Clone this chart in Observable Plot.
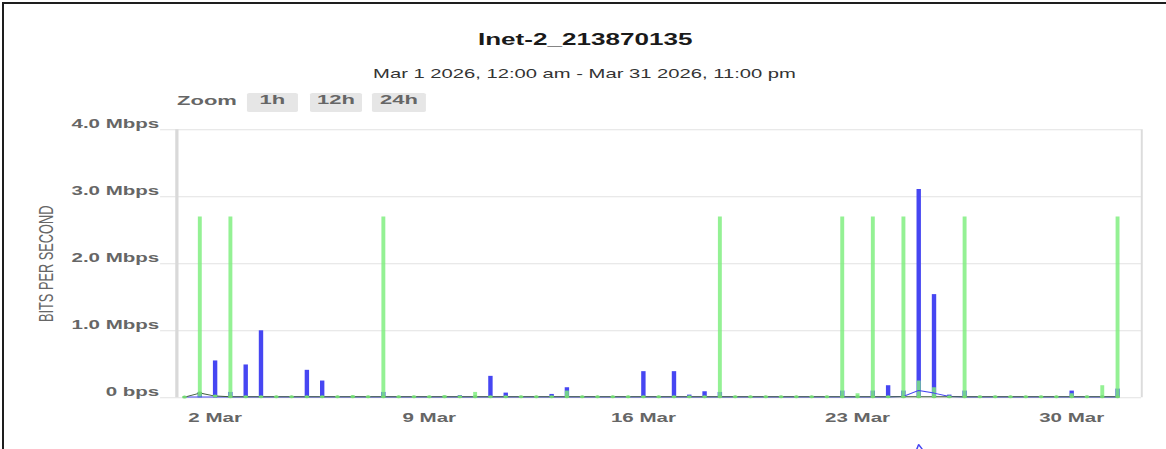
<!DOCTYPE html>
<html>
<head>
<meta charset="utf-8">
<script src="https://cdn.jsdelivr.net/npm/d3@7"></script>
<script src="https://cdn.jsdelivr.net/npm/@observablehq/plot@0.6"></script>
<style>
  html, body { margin: 0; padding: 0; background: #fff; overflow: hidden; }
  body { width: 1166px; height: 449px; position: relative; font-family: "Liberation Sans", Arial, sans-serif; }
  #stage { position: absolute; left: 0; top: 0; height: 449px; transform-origin: 0 0; }
  #stage > * { position: absolute; left: 0; }
  .border { position: absolute; background: #1e1e1e; }
</style>
</head>
<body>
<div class="border" style="left:2px;top:2px;width:1164px;height:2px"></div>
<div class="border" style="left:2px;top:2px;width:2px;height:447px"></div>
<div id="stage"></div>
<script>
// ---- data ----
const chartTitle = "Inet-2_213870135";
const chartSubtitle = "Mar 1 2026, 12:00 am - Mar 31 2026, 11:00 pm";
const zoomLabel = "Zoom";
const zoomButtons = ["1h", "12h", "24h"];
const yAxisTitle = "BITS PER SECOND";
const yTicks = [0, 1, 2, 3, 4];                       // Mbps
const yTickLabels = ["0 bps", "1.0 Mbps", "2.0 Mbps", "3.0 Mbps", "4.0 Mbps"];
const xTickDays = [2, 9, 16, 23, 30];
const xTickLabels = ["2 Mar", "9 Mar", "16 Mar", "23 Mar", "30 Mar"];
// samples every 12 hours from Mar 1 2026 00:00 (index 0) to Mar 31 12:00 (index 61)
const outColumns = [0,0.08,0.55,0.08,0.49,1.0,0.01,0.01,0.41,0.25,
  0.01,0.01,0.01,0.08,0.01,0.01,0.01,0.01,0.03,0.01,
  0.32,0.07,0.01,0.01,0.05,0.15,0.01,0.01,0.01,0.01,
  0.39,0.01,0.39,0.04,0.09,0.08,0.01,0.01,0.01,0.01,
  0.01,0.01,0.01,0.1,0.01,0.1,0.18,0.1,3.11,1.54,
  0.04,0.1,0.02,0.02,0.01,0.01,0.01,0.01,0.1,0.02,
  0.02,0.13];
const inColumns = [0,2.7,0.02,2.7,0.02,0.02,0.02,0.02,0.02,0.02,
  0.02,0.03,0.02,2.7,0.02,0.02,0.02,0.03,0.02,0.08,
  0.02,0.02,0.02,0.02,0.02,0.1,0.02,0.02,0.02,0.02,
  0.02,0.02,0.02,0.02,0.02,2.7,0.02,0.02,0.02,0.02,
  0.02,0.02,0.02,2.7,0.06,2.7,0.02,2.7,0.25,0.15,
  0.02,2.7,0.02,0.02,0.02,0.02,0.02,0.02,0.06,0.02,
  0.18,2.7];
const inLine = [0.01,0.07,0.025,0.015,0.015,0.015,0.015,0.015,0.015,0.015,
  0.015,0.015,0.015,0.015,0.015,0.015,0.015,0.015,0.015,0.015,
  0.015,0.015,0.015,0.015,0.015,0.015,0.015,0.015,0.015,0.015,
  0.015,0.015,0.015,0.015,0.015,0.015,0.015,0.015,0.015,0.015,
  0.015,0.015,0.015,0.015,0.015,0.015,0.015,0.015,0.015,0.015,
  0.015,0.015,0.015,0.015,0.015,0.015,0.015,0.015,0.015,0.015,
  0.015,0.015];
const outLine = [0.01,0.01,0.01,0.01,0.01,0.01,0.01,0.01,0.01,0.01,
  0.01,0.01,0.01,0.01,0.01,0.01,0.01,0.01,0.01,0.01,
  0.01,0.01,0.01,0.01,0.01,0.01,0.01,0.01,0.01,0.01,
  0.01,0.01,0.01,0.01,0.01,0.01,0.01,0.01,0.01,0.01,
  0.01,0.01,0.01,0.01,0.01,0.01,0.01,0.02,0.11,0.07,
  0.02,0.01,0.01,0.01,0.01,0.01,0.01,0.01,0.01,0.01,
  0.01,0.01];

// ---- layout ----
const PAGE_W = 1166, SX = 1.63;           // reference is horizontally stretched
const UW = PAGE_W / SX;
const FONT = "'Liberation Sans', Arial, sans-serif";
const BLUE = "#4646f2", GREEN = "#7cee7c";

const start = Date.UTC(2026, 2, 1);
const data = outColumns.map((v, i) => ({
  t: new Date(start + i * 12 * 3600e3),
  out: v, in: inColumns[i], inL: inLine[i], outL: outLine[i]
}));
const xDomain = [new Date(Date.UTC(2026, 1, 28, 18)), new Date(Date.UTC(2026, 3, 1, 7))];
const xTickDates = xTickDays.map(d => new Date(Date.UTC(2026, 2, d)));

const stage = document.getElementById("stage");
stage.style.width = UW + "px";
stage.style.transform = `scaleX(${SX})`;

// header (title, subtitle, range selector)
const head = d3.select(stage).append("svg")
  .attr("width", UW).attr("height", 120).style("top", "0px")
  .style("font-family", FONT);
head.append("text").attr("x", 359).attr("y", 45.5).attr("text-anchor", "middle")
  .attr("font-size", 16).attr("font-weight", "bold").attr("fill", "#1a1a1a").text(chartTitle);
head.append("text").attr("x", 358.6).attr("y", 78).attr("text-anchor", "middle")
  .attr("font-size", 12.4).attr("fill", "#333").text(chartSubtitle);
head.append("text").attr("x", 108.6).attr("y", 105).attr("font-size", 13.5)
  .attr("font-weight", "bold").attr("fill", "#666").text(zoomLabel);
const btnX = [151.5, 190.2, 228.2], btnW = [31.3, 31.9, 33.1];
zoomButtons.forEach((b, i) => {
  head.append("rect").attr("x", btnX[i]).attr("y", 93).attr("width", btnW[i]).attr("height", 19)
    .attr("rx", 1.5).attr("fill", "#e6e6e6");
  head.append("text").attr("x", btnX[i] + btnW[i] / 2).attr("y", 104.5).attr("text-anchor", "middle")
    .attr("font-size", 13.5).attr("font-weight", "bold").attr("fill", "#666").text(b);
});

// main chart
const chart = Plot.plot({
  width: UW, height: 330,
  marginLeft: 98.2, marginRight: UW - 700, marginTop: 19.3, marginBottom: 42.7,
  style: { fontFamily: FONT, overflow: "visible", background: "transparent" },
  x: { type: "utc", domain: xDomain, insetLeft: 9.8, label: null },
  y: { domain: [0, 4], axis: null },
  marks: [
    Plot.ruleY(yTicks, { stroke: "#e2e2e2", strokeWidth: 1 }),
    Plot.ruleX([xDomain[0]], { stroke: "#d9d9d9", strokeWidth: 2 }),
    Plot.ruleX([xDomain[1]], { stroke: "#dcdcdc", strokeWidth: 1.2 }),
    Plot.text(yTicks, { y: d => d, text: (d, i) => yTickLabels[i], frameAnchor: "left",
      textAnchor: "end", dx: -1, dy: -6, fontSize: 12.6, fontWeight: "bold", fill: "#666" }),
    Plot.text([yAxisTitle], { text: d => d, frameAnchor: "left", textAnchor: "middle", rotate: -90, dx: -70.6,
      fontSize: 12.8, fill: "#666" }),
    Plot.axisX(xTickDates, { tickSize: 0, tickPadding: 15.5, fontSize: 12.6, fontWeight: "bold", label: null,
      fill: "#666", tickFormat: d => xTickLabels[xTickDays.indexOf(d.getUTCDate())] }),
    Plot.ruleX(data.filter(d => d.out > 0), { x: "t", y1: 0, y2: "out", stroke: BLUE, strokeWidth: 2.7 }),
    Plot.ruleX(data.filter(d => d.in > 0), { x: "t", y1: 0, y2: "in", stroke: GREEN, strokeOpacity: 0.82, strokeWidth: 2.4 }),
    Plot.line(data, { x: "t", y: "outL", stroke: BLUE, strokeWidth: 1 }),
    Plot.line(data, { x: "t", y: "inL", stroke: "#3d5a3d", strokeWidth: 1 }),
    Plot.dot(data, { x: "t", y: "inL", r: 1.5, fill: "#74d874", stroke: "none" })
  ]
});
chart.style.top = "110px";
stage.appendChild(chart);

// navigator (only its top edge is visible)
const nav = Plot.plot({
  width: UW, height: 60,
  marginLeft: 98.2, marginRight: UW - 700, marginTop: 7, marginBottom: 13,
  style: { overflow: "visible", background: "transparent" },
  x: { type: "utc", domain: xDomain, insetLeft: 9.8, axis: null },
  y: { domain: [0, d3.max(outColumns)], axis: null },
  marks: [
    Plot.line(data, { x: "t", y: "out", stroke: BLUE, strokeWidth: 1 })
  ]
});
nav.style.top = "437px";
stage.appendChild(nav);
</script>
</body>
</html>
